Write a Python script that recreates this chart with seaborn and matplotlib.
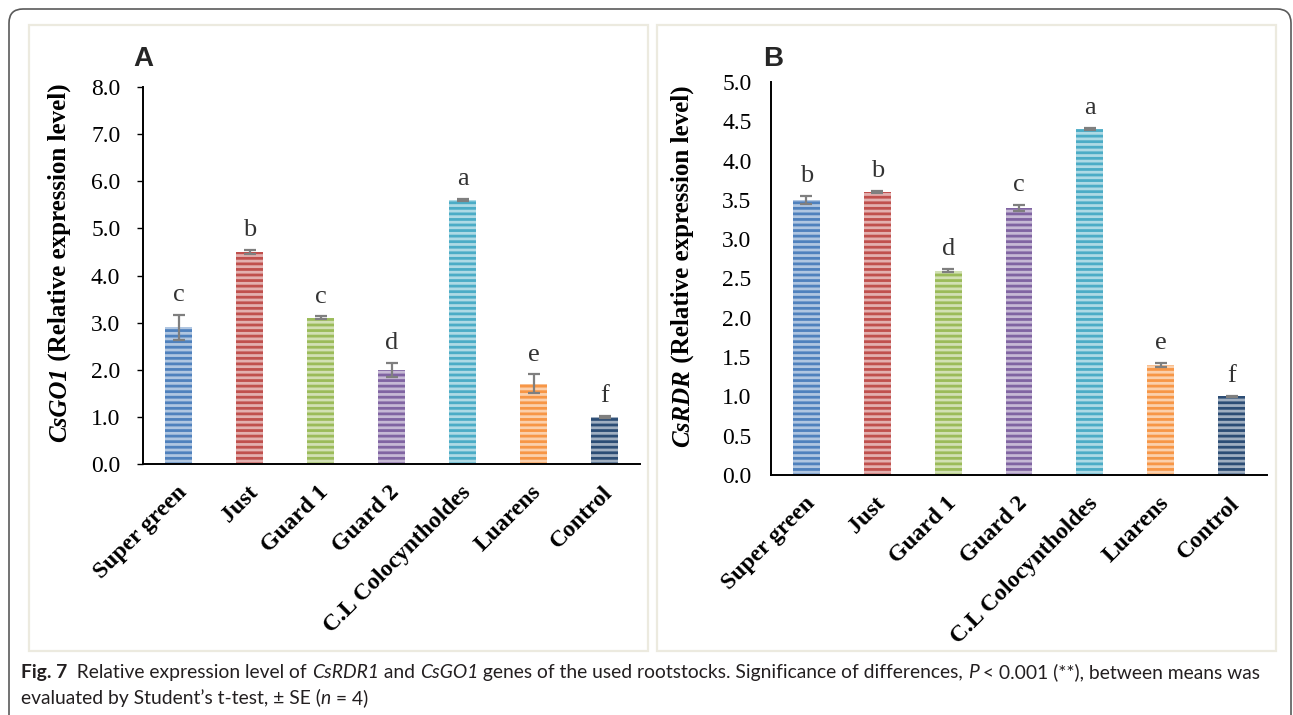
import numpy as np
import pandas as pd
import matplotlib
matplotlib.use("Agg")
import matplotlib.pyplot as plt
import matplotlib.colors as mcolors
from matplotlib.patches import FancyBboxPatch, Rectangle
from matplotlib.transforms import IdentityTransform, ScaledTranslation
import seaborn as sns

# ---- data -------------------------------------------------------------
rootstocks = ["Super green", "Just", "Guard 1", "Guard 2",
              "C.L Colocyntholdes", "Luarens", "Control"]

go1_mean = [2.9, 4.5, 3.1, 2.0, 5.6, 1.7, 1.0]
go1_se = [0.26, 0.04, 0.03, 0.15, 0.02, 0.20, 0.02]
go1_groups = ["c", "b", "c", "d", "a", "e", "f"]
go1_ticks = [0, 1, 2, 3, 4, 5, 6, 7, 8]

rdr_mean = [3.5, 3.6, 2.6, 3.4, 4.4, 1.4, 1.0]
rdr_se = [0.05, 0.01, 0.02, 0.04, 0.01, 0.02, 0.01]
rdr_groups = ["b", "b", "d", "c", "a", "e", "f"]
rdr_ticks = [0, 0.5, 1.0, 1.5, 2.0, 2.5, 3.0, 3.5, 4.0, 4.5, 5.0]

bar_colors = ["#4F81BD", "#C0504D", "#9BBB59", "#8064A2",
              "#4BACC6", "#F79646", "#2C4D75"]

# ---- style ------------------------------------------------------------
sns.set_style("white")
plt.rcParams["font.family"] = ["Liberation Serif", "DejaVu Serif"]
plt.rcParams["hatch.linewidth"] = 2.0

W, H = 1293, 715
fig = plt.figure(figsize=(W / 100, H / 100), dpi=100)
fig.patch.set_facecolor("white")


def px_axes(left, top, right, bottom):
    """Axes box given in image pixels (origin top-left)."""
    return fig.add_axes([left / W, 1 - bottom / H, (right - left) / W, (bottom - top) / H])


def tint(c, amount):
    r = np.array(mcolors.to_rgb(c))
    return tuple(r + (1 - r) * amount)


light_colors = [tint(c, 0.55) for c in bar_colors]


def draw_panel(ax, means, ses, groups, ticks, tick_len, tick_pad):
    df = pd.DataFrame({"rootstock": rootstocks, "mean": means, "se": ses})
    sns.barplot(data=df, x="rootstock", y="mean", hue="rootstock",
                palette=light_colors, legend=False, width=0.38,
                errorbar=None, saturation=1, ax=ax)
    for patch, col in zip(ax.patches, bar_colors):
        patch.set_hatch("---")
        patch.set_edgecolor(col)
        patch.set_linewidth(0)
    ax.errorbar(range(len(means)), means, yerr=ses, fmt="none",
                ecolor="#7F7F7F", elinewidth=1.6, capsize=4, capthick=1.6,
                zorder=5)
    for i, (m, s, g) in enumerate(zip(means, ses, groups)):
        ax.annotate(g, (i, m + s), xytext=(0, 10), textcoords="offset points",
                    ha="center", va="baseline", fontsize=19, color="#333333")
    ax.set_xlim(-0.5, len(means) - 0.5)
    ax.set_ylim(ticks[0], ticks[-1])
    ax.set_yticks(ticks)
    ax.set_yticklabels([f"{t:.1f}" for t in ticks])
    ax.set_xticks(range(len(rootstocks)))
    ax.set_xlabel("")
    ax.set_ylabel("")
    for side in ("top", "right"):
        ax.spines[side].set_visible(False)
    for side in ("left", "bottom"):
        ax.spines[side].set_color("black")
        ax.spines[side].set_linewidth(1.4)
    ax.tick_params(axis="y", direction="out", length=tick_len, width=1.0,
                   pad=tick_pad, labelsize=17, colors="black", left=True)
    ax.tick_params(axis="x", length=0, pad=16, colors="black")
    ax.set_xticklabels(rootstocks, rotation=45, ha="right", va="center",
                       rotation_mode="anchor", fontweight="bold", fontsize=17)
    shift = ScaledTranslation(5 / 100, -3 / 100, fig.dpi_scale_trans)
    for lab in ax.get_xticklabels():
        lab.set_transform(lab.get_transform() + shift)
    ax.set_facecolor("white")


# ---- frames -----------------------------------------------------------
ident = IdentityTransform()
outer = FancyBboxPatch((9, -30), 1282, H - 9 + 30,
                       boxstyle="round,pad=0,rounding_size=14",
                       transform=ident, fill=False, edgecolor="#5A5A5A",
                       linewidth=1.2, zorder=0)
fig.patches.append(outer)
for (l, r) in ((29, 648), (657, 1276)):
    fig.patches.append(Rectangle((l, H - 651), r - l, 651 - 25, transform=ident,
                                 fill=False, edgecolor="#ECEADF", linewidth=1.6,
                                 zorder=0))

# ---- panels -----------------------------------------------------------
axA = px_axes(143, 87, 640, 464)
draw_panel(axA, go1_mean, go1_se, go1_groups, go1_ticks, 4.3, 12)
axB = px_axes(771, 82, 1267, 475)
draw_panel(axB, rdr_mean, rdr_se, rdr_groups, rdr_ticks, 0, 14)

fig.text(133 / W, 1 - 46 / H, "A", ha="left", va="top", fontsize=20,
         fontweight="bold", family="Liberation Sans")
fig.text(763 / W, 1 - 46 / H, "B", ha="left", va="top", fontsize=20,
         fontweight="bold", family="Liberation Sans")

renderer = fig.canvas.get_renderer()


def run_width(s, props):
    t1 = fig.text(0, 0, "|" + s + "|", **props)
    t2 = fig.text(0, 0, "||", **props)
    w = t1.get_window_extent(renderer).width - t2.get_window_extent(renderer).width
    t1.remove()
    t2.remove()
    return w


def draw_runs(x, y, runs, base, vertical=False):
    """Lay out styled runs one after another from (x, y) in pixels."""
    pos = 0.0
    for s, extra in runs:
        props = dict(base, **extra)
        w = run_width(s, props)
        if vertical:
            fig.text(x / W, 1 - (y - pos) / H, s, rotation=90,
                     rotation_mode="anchor", ha="left", va="baseline", **props)
        else:
            fig.text((x + pos) / W, 1 - y / H, s, ha="left", va="baseline", **props)
        pos += w
    return pos


# y-axis titles, gene name in bold italic
label_base = dict(fontsize=18, fontweight="bold", family="Liberation Serif", color="black")
for gene, xc, yc in (("CsGO1", 66, 263), ("CsRDR", 689, 266)):
    runs = [(gene, dict(style="italic")), (" (Relative expression level)", {})]
    total = sum(run_width(s, dict(label_base, **e)) for s, e in runs)
    draw_runs(xc, yc + total / 2, runs, label_base, vertical=True)

# ---- caption ----------------------------------------------------------
cap_family = "Lato"
line1 = [("Fig. 7", dict(fontweight="bold")),
         ("  Relative expression level of ", {}),
         ("CsRDR1", dict(style="italic")),
         (" and ", {}),
         ("CsGO1", dict(style="italic")),
         (" genes of the used rootstocks. Significance of differences, ", {}),
         ("P", dict(style="italic")),
         (" < 0.001 (**), between means was", {})]
line2 = [("evaluated by Student\u2019s t-test, \u00b1 SE (", {}),
         ("n", dict(style="italic")),
         (" = 4)", {})]

size0 = 11.0
probe = dict(fontsize=size0, family=cap_family, color="#231F20")
w0 = sum(run_width(s, dict(probe, **e)) for s, e in line1)
cap_size = size0 * 1242 / w0
cap_base = dict(fontsize=cap_size, family=cap_family, color="#231F20")
draw_runs(21, 678, line1, cap_base)
draw_runs(21, 704, line2, cap_base)

fig.savefig("out.png", dpi=100, facecolor="white")
